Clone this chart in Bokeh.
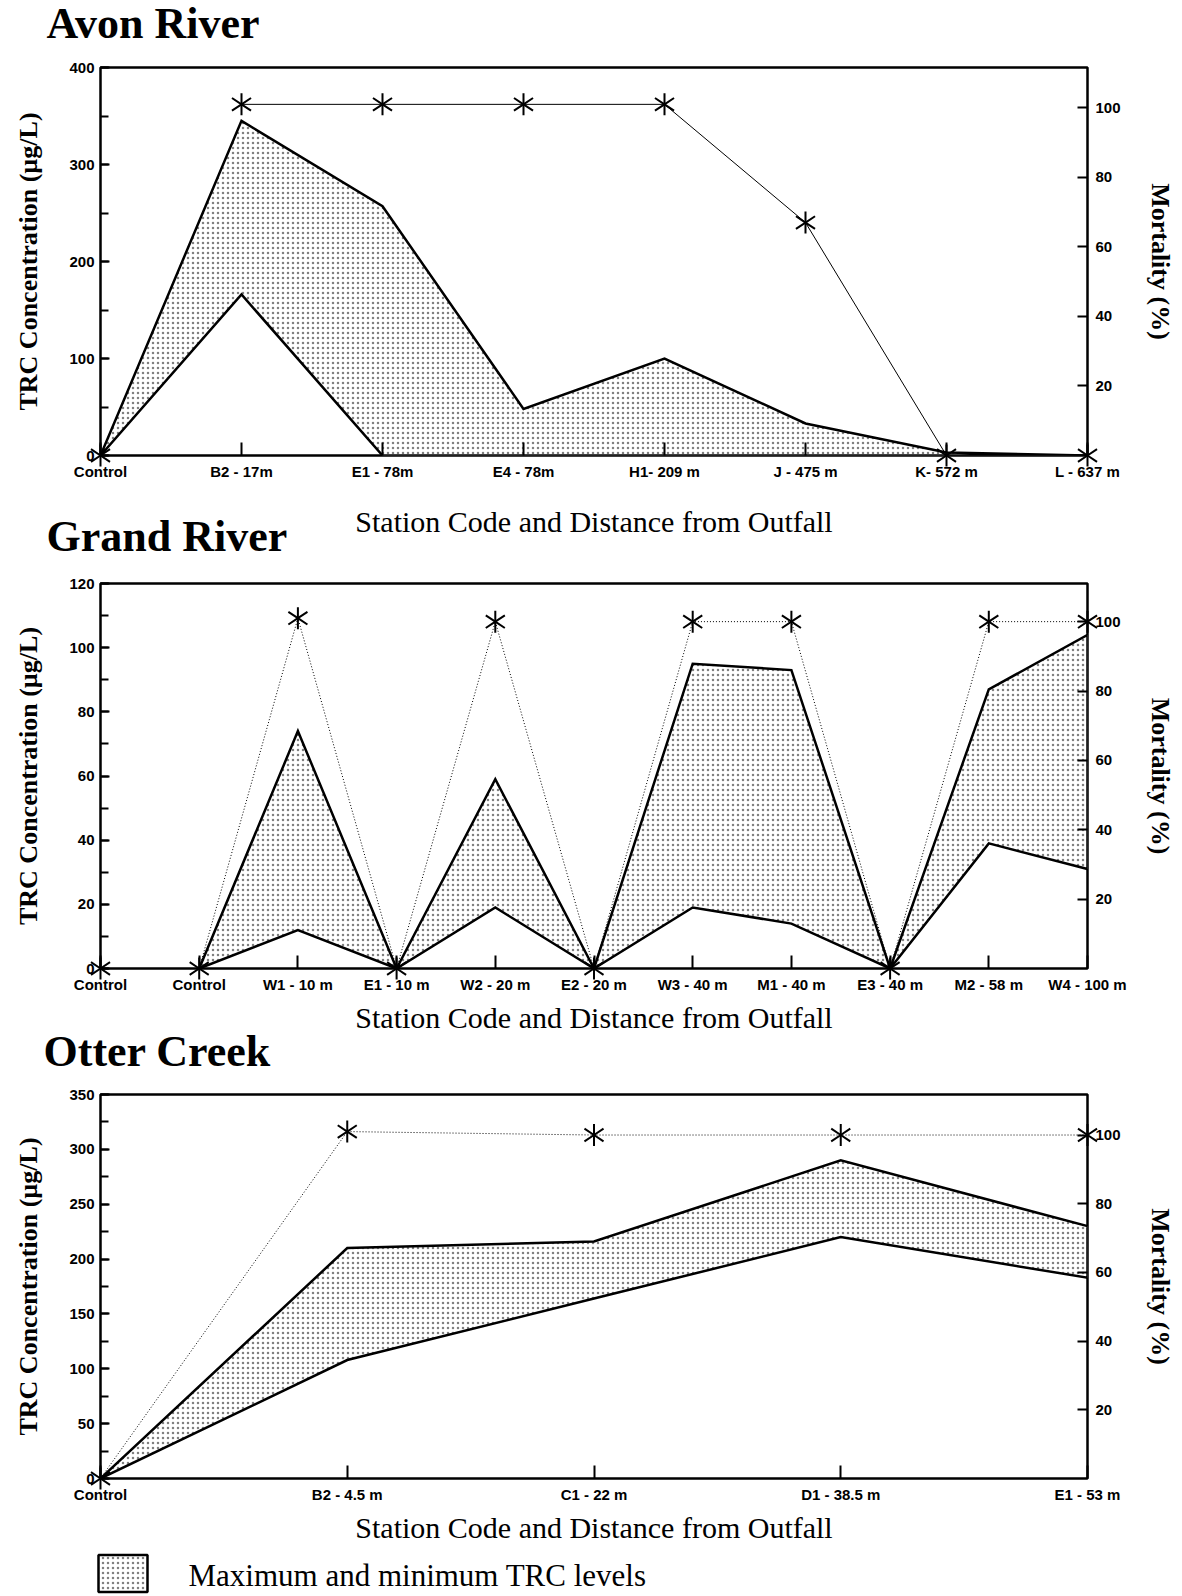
import numpy as np
from bokeh.plotting import figure
from bokeh.models import Range1d, LinearAxis, FixedTicker, SingleIntervalTicker
from bokeh.core.properties import value
from bokeh.layouts import column
from bokeh.embed import file_html
from bokeh.resources import INLINE

# ---------------- data ----------------
avon_stations = ["Control", "B2 - 17m", "E1 - 78m", "E4 - 78m", "H1- 209 m",
                 "J - 475 m", "K- 572 m", "L - 637 m"]
avon_trc_max = [0, 345, 257, 48, 100, 33, 3, 0]
avon_trc_min = [0, 166, 0, 0, 0, 0, 0, 0]
avon_mortality = [0, 101, 101, 101, 101, 67, 0, 0]

grand_stations = ["Control", "Control", "W1 - 10 m", "E1 - 10 m", "W2 - 20 m",
                  "E2 - 20 m", "W3 - 40 m", "M1 - 40 m", "E3 - 40 m",
                  "M2 - 58 m", "W4 - 100 m"]
grand_trc_max = [0, 0, 74, 0, 59, 0, 95, 93, 0, 87, 104]
grand_trc_min = [0, 0, 12, 0, 19, 0, 19, 14, 0, 39, 31]
grand_mortality = [0, 0, 101, 0, 100, 0, 100, 100, 0, 100, 100]

otter_stations = ["Control", "B2 - 4.5 m", "C1 - 22 m", "D1 - 38.5 m", "E1 - 53 m"]
otter_trc_max = [0, 210, 216, 290, 230]
otter_trc_min = [0, 108, 164, 220, 183]
otter_mortality = [0, 101, 100, 100, 100]

mortality_ticks = [20, 40, 60, 80, 100]
panel_titles = ["Avon River", "Grand River", "Otter Creek"]
x_title = "Station Code and Distance from Outfall"
y_title = "TRC Concentration (\u00b5g/L)"
y2_title = "Mortality (%)"
legend_text = "Maximum and minimum TRC levels"

# ---------------- layout constants ----------------
FIG_W = 1182
FRAME_L, FRAME_R = 100, 1087
SERIF = "Liberation Serif"
SANS = "Liberation Sans"
HATCH = dict(hatch_pattern="dot", hatch_scale=5, hatch_weight=1,
             hatch_color="black", hatch_alpha=0.5)


def style_ticks(ax):
    ax.axis_line_color = None
    ax.major_tick_line_width = 2
    ax.major_tick_line_color = "black"
    ax.major_tick_out = 0
    ax.major_label_text_font = SANS
    ax.major_label_text_font_style = "bold"
    ax.major_label_text_font_size = "15px"
    ax.major_label_text_color = "black"
    ax.axis_label_text_font = SERIF
    ax.axis_label_text_color = "black"


class Panel:
    def __init__(self, stations, tmax, tmin, mort, fill_from, line_from, y_end,
                 y_step, m_end, m_dash, fig_top, fig_bottom, frame_top,
                 frame_bottom, xlabel_standoff):
        n = len(stations)
        self.n, self.y_end = n, y_end
        self.frame_top, self.frame_bottom = frame_top, frame_bottom
        p = figure(width=FIG_W, height=fig_bottom - fig_top,
                   x_range=Range1d(0, n - 1), y_range=Range1d(0, y_end),
                   toolbar_location=None, output_backend="svg",
                   min_border_left=FRAME_L, min_border_right=FIG_W - FRAME_R,
                   min_border_top=frame_top - fig_top,
                   min_border_bottom=fig_bottom - frame_bottom)
        self.p = p
        p.extra_y_ranges = {"mort": Range1d(0, m_end)}
        p.grid.visible = False
        p.outline_line_color = "black"
        p.outline_line_width = 2.5
        p.outline_line_alpha = 1

        xa = p.xaxis[0]
        style_ticks(xa)
        xa.ticker = FixedTicker(ticks=list(range(n)))
        xa.major_label_overrides = {i: s for i, s in enumerate(stations)}
        xa.major_tick_in = 13
        xa.minor_tick_line_color = None
        xa.major_label_standoff = 7
        xa.axis_label = x_title
        xa.axis_label_text_font_style = "normal"
        xa.axis_label_text_font_size = "30px"
        xa.axis_label_standoff = xlabel_standoff

        ya = p.yaxis[0]
        style_ticks(ya)
        ya.ticker = SingleIntervalTicker(interval=y_step, num_minor_ticks=2)
        ya.major_tick_in = 9
        ya.minor_tick_in = 8
        ya.minor_tick_out = 0
        ya.minor_tick_line_width = 2
        ya.minor_tick_line_color = "black"
        ya.major_label_standoff = 6
        ya.axis_label = y_title
        ya.axis_label_text_font_style = "bold"
        ya.axis_label_text_font_size = "26px"
        ya.axis_label_standoff = 23

        ra = LinearAxis(y_range_name="mort", ticker=FixedTicker(ticks=mortality_ticks),
                        axis_label=y2_title)
        style_ticks(ra)
        ra.major_tick_in = 10
        ra.minor_tick_line_color = None
        ra.major_label_standoff = 8
        ra.axis_label_text_font_style = "bold"
        ra.axis_label_text_font_size = "26px"
        ra.axis_label_standoff = 22
        p.add_layout(ra, "right")

        # max/min TRC band
        xs = list(range(fill_from, n)) + list(range(n - 1, fill_from - 1, -1))
        ys = list(tmax[fill_from:]) + list(tmin[fill_from:])[::-1]
        self.band = p.patch(xs, ys, fill_color="white", line_color="black",
                            line_width=2.5, line_join="miter", **HATCH)

        # mortality
        lx = list(range(line_from, n))
        if m_dash == "solid":
            p.line(lx, mort[line_from:], y_range_name="mort", line_color="black",
                   line_width=1)
        else:
            p.line(lx, mort[line_from:], y_range_name="mort", line_color="black",
                   line_width=1, line_dash=m_dash)
        allx = list(range(n))
        for ang in (0.0, np.pi):
            p.scatter(allx, mort, marker="y", size=22, angle=ang, line_color="black",
                      line_width=2, y_range_name="mort", level="overlay")

    def to_data(self, px, py):
        x = (px - FRAME_L) / (FRAME_R - FRAME_L) * (self.n - 1)
        y = (self.frame_bottom - py) / (self.frame_bottom - self.frame_top) * self.y_end
        return x, y

    def add_text(self, text, px, py, size, style):
        x, y = self.to_data(px, py)
        self.p.text(x=[x], y=[y], text=[text], text_font=value(SERIF),
                    text_font_style=style, text_font_size=size,
                    text_baseline="alphabetic", text_align="left",
                    text_color="black", level="overlay")


# Avon (page y 0-572)
A = Panel(avon_stations, avon_trc_max, avon_trc_min, avon_mortality,
          0, 1, 400, 100, 111.6, "solid", 0, 572, 67, 455, 22)
A.add_text(panel_titles[0], 46, 23, "44px", "bold")
A.add_text(panel_titles[1], 46, 536, "44px", "bold")

# Grand (page y 572-1085)
B = Panel(grand_stations, grand_trc_max, grand_trc_min, grand_mortality,
          1, 1, 120, 20, 111, "1 2", 572, 1085, 583, 968, 5)
B.add_text(panel_titles[2], 43, 1051, "44px", "bold")

# Otter (page y 1085-1596)
C = Panel(otter_stations, otter_trc_max, otter_trc_min, otter_mortality,
          0, 0, 350, 50, 111.8, "1 2", 1085, 1596, 1094, 1478, 5)
# legend: swatch + label
sx, sy = C.to_data(122.5, 1573)
C.p.rect(x=[sx], y=[sy], width=49, height=37, width_units="screen",
         height_units="screen", fill_color="white", line_color="black",
         line_width=2.5, level="overlay", **HATCH)
C.add_text(legend_text, 188, 1575, "31px", "normal")

layout = column(A.p, B.p, C.p, spacing=0)
with open("out.html", "w") as f:
    f.write(file_html(layout, INLINE))
